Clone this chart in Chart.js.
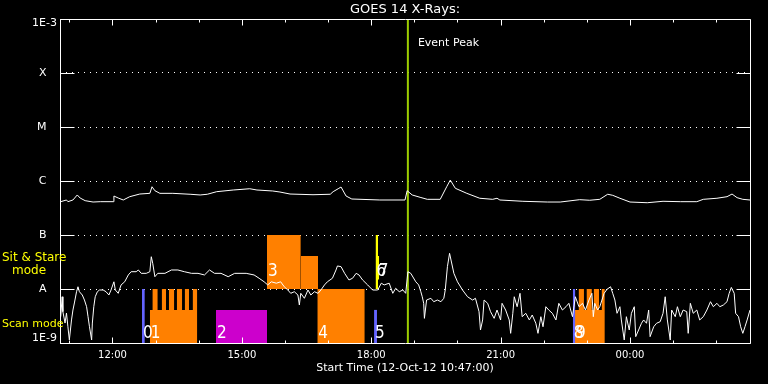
<!DOCTYPE html>
<html><head><meta charset="utf-8">
<script src="https://cdn.jsdelivr.net/npm/chart.js@4.4.0/dist/chart.umd.min.js"></script>
<style>html,body{margin:0;padding:0;background:#000;overflow:hidden}canvas{display:block;background:#000}</style>
</head><body>
<canvas id="c" width="768" height="384"></canvas>
<script>
// Time axis: minutes after start time 10:47
const longMinutes = [1,9,11,18,24,28,35,46,56,74,75,81,88,97,111,125,128,132,139,157,181,195,205,218,241,264,274,296,306,320,352,376,380,387,391,398,406,445,480,483,490,501,511,529,538,543,550,566,584,602,608,612,644,678,696,723,737,751,762,769,779,793,817,839,863,886,895,914,928,935,942,950,960];
const longFlux = [4.14e-7,4.45e-7,4.14e-7,4.45e-7,5.51e-7,4.84e-7,4.32e-7,4.08e-7,4.14e-7,4.14e-7,5.27e-7,4.84e-7,4.45e-7,5.12e-7,5.74e-7,5.91e-7,7.83e-7,6.61e-7,5.91e-7,5.91e-7,5.68e-7,5.51e-7,5.68e-7,6.34e-7,6.81e-7,7.19e-7,6.81e-7,6.53e-7,6.25e-7,5.74e-7,5.57e-7,5.68e-7,6.34e-7,7.19e-7,7.74e-7,5.27e-7,4.64e-7,4.45e-7,4.45e-7,6.61e-7,5.51e-7,4.99e-7,4.58e-7,4.58e-7,7.83e-7,1.04e-6,7.33e-7,5.91e-7,4.79e-7,4.58e-7,4.79e-7,4.45e-7,4.21e-7,4.08e-7,4.08e-7,4.51e-7,4.40e-7,4.58e-7,5.68e-7,5.43e-7,4.79e-7,4.08e-7,3.96e-7,4.21e-7,4.14e-7,4.14e-7,4.58e-7,4.79e-7,5.12e-7,5.74e-7,4.91e-7,4.58e-7,4.45e-7];

const shortMinutes = [1,3,4,7,9,11,13,16,18,20,23,25,27,31,34,37,39,41,44,45,47,49,52,55,60,64,68,71,75,77,81,85,90,95,99,106,109,113,120,125,127,129,132,136,146,155,164,173,183,192,201,208,215,224,234,243,259,270,277,284,289,294,301,307,312,317,321,326,331,333,335,340,345,349,354,359,363,368,372,379,384,386,391,396,402,407,412,416,421,428,435,442,447,451,458,463,467,472,477,481,484,488,495,499,502,504,506,507,510,516,520,525,530,534,536,539,542,544,548,553,560,567,574,578,583,585,588,590,595,599,604,608,613,615,620,625,627,630,632,636,640,643,648,653,657,662,665,669,672,676,680,685,690,694,699,704,708,713,717,722,727,731,736,740,742,744,748,751,754,757,761,766,769,772,775,779,781,785,788,792,795,799,801,805,809,812,816,819,821,826,830,835,839,842,845,849,851,856,859,863,867,872,874,877,881,886,890,895,900,905,909,914,918,923,928,931,934,938,940,944,947,950,953,956,960];
const shortFlux = [3.07e-9,7.19e-9,3.80e-9,2.34e-9,3.59e-9,2.00e-9,1.14e-9,2.67e-9,4.08e-9,5.51e-9,
8.91e-9,1.10e-8,8.91e-9,7.74e-9,6.25e-9,4.70e-9,3.07e-9,2.00e-9,1.14e-9,2.34e-9,
4.70e-9,7.19e-9,8.91e-9,9.58e-9,9.58e-9,8.91e-9,7.74e-9,9.58e-9,1.36e-8,9.58e-9,
8.32e-9,1.19e-8,1.36e-8,1.82e-8,2.09e-8,2.09e-8,2.25e-8,1.95e-8,1.95e-8,2.09e-8,
3.96e-8,2.99e-8,1.69e-8,1.95e-8,1.95e-8,2.25e-8,2.25e-8,2.09e-8,1.95e-8,1.95e-8,
1.82e-8,2.25e-8,1.95e-8,1.95e-8,1.69e-8,1.95e-8,1.95e-8,1.82e-8,1.58e-8,1.36e-8,
1.19e-8,1.36e-8,1.28e-8,1.36e-8,1.10e-8,9.58e-9,8.32e-9,8.91e-9,7.74e-9,5.06e-9,
8.32e-9,6.73e-9,9.58e-9,7.74e-9,8.91e-9,8.32e-9,9.58e-9,1.19e-8,1.36e-8,1.58e-8,
2.25e-8,2.67e-8,2.59e-8,1.95e-8,1.47e-8,1.58e-8,1.95e-8,1.82e-8,1.47e-8,1.19e-8,
9.58e-9,9.58e-9,1.28e-8,1.19e-8,1.28e-8,8.32e-9,1.03e-8,8.91e-9,9.58e-9,8.32e-9,
2.09e-8,1.95e-8,1.36e-8,1.19e-8,8.91e-9,7.19e-9,5.43e-9,2.86e-9,6.25e-9,6.73e-9,
5.82e-9,6.25e-9,5.82e-9,6.73e-9,9.58e-9,2.59e-8,4.58e-8,3.44e-8,1.95e-8,1.36e-8,
9.58e-9,7.19e-9,6.25e-9,6.73e-9,3.80e-9,1.74e-9,2.67e-9,6.25e-9,5.43e-9,3.80e-9,
2.86e-9,4.08e-9,2.67e-9,5.43e-9,4.08e-9,2.67e-9,1.51e-9,3.55e-9,7.19e-9,4.70e-9,
8.32e-9,3.07e-9,3.55e-9,2.67e-9,3.30e-9,2.32e-9,1.51e-9,3.07e-9,2.00e-9,4.70e-9,
4.08e-9,3.55e-9,2.67e-9,5.43e-9,4.08e-9,4.70e-9,5.43e-9,3.07e-9,7.19e-9,4.70e-9,
5.43e-9,4.08e-9,6.25e-9,8.32e-9,3.07e-9,5.43e-9,4.08e-9,4.70e-9,6.25e-9,8.32e-9,
9.86e-9,1.10e-8,8.32e-9,6.25e-9,3.55e-9,4.70e-9,2.67e-9,1.14e-9,3.07e-9,1.74e-9,
3.55e-9,4.70e-9,1.31e-9,1.74e-9,2.32e-9,2.67e-9,2.32e-9,4.08e-9,1.31e-9,2.00e-9,
2.32e-9,2.48e-9,3.55e-9,7.19e-9,2.67e-9,1.14e-9,4.08e-9,3.07e-9,4.70e-9,3.07e-9,
4.08e-9,3.80e-9,1.51e-9,5.43e-9,3.55e-9,4.08e-9,2.67e-9,3.07e-9,4.08e-9,5.82e-9,
4.70e-9,5.43e-9,4.70e-9,5.06e-9,5.82e-9,8.32e-9,1.07e-8,8.32e-9,3.55e-9,3.07e-9,
2.00e-9,1.51e-9,2.00e-9,2.67e-9,4.08e-9];

// Observation blocks
const obsStart = [114,125,128.5,141.5,151.5,162.5,173.5,184.5,217,288,335,358,437,439,442,713.5,716.5,721.5,732.5,742.5,753.5];
const obsEnd   = [118,191,136,147.5,159,170,179.5,191,288,335,359,424,441,442.5,444,717,758,729,740,750,758];
const obsLow   = [1e-9,1e-9,4.1e-9,4.1e-9,4.1e-9,4.1e-9,4.1e-9,4.1e-9,1e-9,1e-8,1e-8,1e-9,1e-9,1e-8,1.5e-8,1e-9,1e-9,4.1e-9,4.1e-9,4.1e-9,4.1e-9];
const obsHigh  = [1e-8,4.1e-9,1e-8,1e-8,1e-8,1e-8,1e-8,1e-8,4.1e-9,1e-7,4.1e-8,1e-8,4.1e-9,1e-7,4.1e-8,1e-8,4.1e-9,1e-8,1e-8,1e-8,1e-8];
const obsKind  = ['cal','scan','scan','scan','scan','scan','scan','scan','raster','sit','sit','scan','cal','marker','marker','cal','scan','scan','scan','scan','scan'];
const obsLabel = ['0','1','','','','','','','2','3','','4','5','6','7','8','9','','','',''];

const eventPeak = 484;
const hourTicks  = [13,73,133,193,253,313,373,433,493,553,613,673,733,793,853,913];
const hourLabels = ['','12:00','','','15:00','','','18:00','','','21:00','','','00:00','',''];
const fluxTicks  = [1e-9,1e-8,1e-7,1e-6,1e-5,1e-4,1e-3];
const fluxLabels = [['1E-9',''],'A   ','B   ','C   ','M   ','X   ',['','1E-3']];

const kindColor = {cal:'#6464ff', scan:'#ff8000', raster:'#cc00cc', sit:'#ff8000', marker:'#ffff00'};

const datasets = [
  {data: shortMinutes.map((m,i)=>({x:m,y:shortFlux[i]})), borderColor:'#ffffff', borderWidth:1, pointRadius:0, fill:false, tension:0},
  {data: longMinutes.map((m,i)=>({x:m,y:longFlux[i]})), borderColor:'#ffffff', borderWidth:1, pointRadius:0, fill:false, tension:0},
  {data: [{x:eventPeak,y:1e-9},{x:eventPeak,y:1e-3}], borderColor:'#9ccc00', borderWidth:2, pointRadius:0, fill:false}
];
obsStart.forEach((s,i)=>{
  datasets.push({data:[{x:s,y:obsHigh[i]},{x:obsEnd[i],y:obsHigh[i]}], fill:{value:obsLow[i]},
    backgroundColor:kindColor[obsKind[i]], borderColor:'rgba(0,0,0,0)', borderWidth:0, pointRadius:0});
});

const decor = {
  id:'decor',
  afterDraw(chart){
    const {ctx, chartArea:a, scales:{x,y}} = chart;
    ctx.save();
    ctx.strokeStyle='#ffffff'; ctx.lineWidth=1;
    const L=Math.round(a.left)+0.5, R=Math.round(a.right)+0.5, T=Math.round(a.top)+0.5, B=Math.round(a.bottom)+0.5;
    ctx.beginPath();
    ctx.moveTo(L,T); ctx.lineTo(R,T); ctx.lineTo(R,B); ctx.lineTo(L,B); ctx.closePath();
    fluxTicks.forEach(v=>{
      const py=Math.round(y.getPixelForValue(v))+0.5;
      ctx.moveTo(L,py); ctx.lineTo(L+14,py);
      ctx.moveTo(R-14,py); ctx.lineTo(R,py);
    });
    hourTicks.forEach((m,i)=>{
      const px=Math.round(x.getPixelForValue(m))+0.5;
      const len = hourLabels[i] ? 6 : 3;
      ctx.moveTo(px,B); ctx.lineTo(px,B-len);
      ctx.moveTo(px,T); ctx.lineTo(px,T+len);
    });
    ctx.stroke();
    // block labels
    ctx.fillStyle='#ffffff';
    ctx.font='17px "DejaVu Sans Condensed", "DejaVu Sans", sans-serif';
    ctx.textAlign='left'; ctx.textBaseline='middle';
    obsLabel.forEach((t,i)=>{
      if(!t) return;
      const px = x.getPixelForValue(obsStart[i]) + 1;
      const py = y.getPixelForValue(obsLow[i] >= 1e-8 ? 2.07e-8 : 1.5e-9);
      ctx.fillText(t, px, py);
    });
    // event peak label
    ctx.font='11px "DejaVu Sans", sans-serif';
    ctx.fillText('Event Peak', x.getPixelForValue(eventPeak)+10, a.top+24);
    // mode labels
    ctx.fillStyle='#ffff00';
    ctx.font='12px "DejaVu Sans", sans-serif';
    const ySit = y.getPixelForValue(3.16e-8), yScan = y.getPixelForValue(3.16e-9);
    ctx.fillText('Sit & Stare', 2, ySit-4);
    ctx.fillText('mode', 12, ySit+9);
    ctx.font='11px "DejaVu Sans", sans-serif';
    ctx.fillText('Scan mode', 2, yScan+8);
    ctx.restore();
  }
};

Chart.defaults.font.family = '"DejaVu Sans", sans-serif';
Chart.defaults.color = '#ffffff';

new Chart(document.getElementById('c'), {
  type:'line',
  data:{datasets},
  options:{
    responsive:false, animation:false, events:[],
    layout:{padding:{left:0,right:18,top:0,bottom:0}},
    plugins:{
      legend:{display:false}, tooltip:{enabled:false},
      title:{display:true, text:'GOES 14 X-Rays:', color:'#ffffff', fullSize:false,
        font:{family:'"DejaVu Sans", sans-serif', size:13, weight:'normal', lineHeight:1.2},
        padding:{top:1.5,bottom:1.9}}
    },
    scales:{
      x:{type:'linear', min:0, max:960,
        afterBuildTicks(s){ s.ticks = hourTicks.map(v=>({value:v})); },
        afterFit(s){ s.height = 41; },
        grid:{display:false, drawTicks:false}, border:{display:false},
        ticks:{autoSkip:false, maxRotation:0, minRotation:0, padding:6.5, color:'#ffffff',
          font:{size:10}, callback:(v,i)=>hourLabels[i]},
        title:{display:true, text:'Start Time (12-Oct-12 10:47:00)', color:'#ffffff',
          font:{size:11}, padding:{top:0,bottom:9.4}}
      },
      y:{type:'logarithmic', min:1e-9, max:1e-3,
        afterBuildTicks(s){ s.ticks = fluxTicks.map(v=>({value:v})); },
        afterFit(s){ s.width = 60; },
        grid:{color:'#ffffff', lineWidth:1, drawTicks:false},
        border:{display:false, dash:[1,5]},
        ticks:{autoSkip:false, padding:3, color:'#ffffff', font:{size:11, lineHeight:0.8},
          callback:(v,i)=>fluxLabels[i]}
      }
    }
  },
  plugins:[decor]
});
</script>
</body></html>
